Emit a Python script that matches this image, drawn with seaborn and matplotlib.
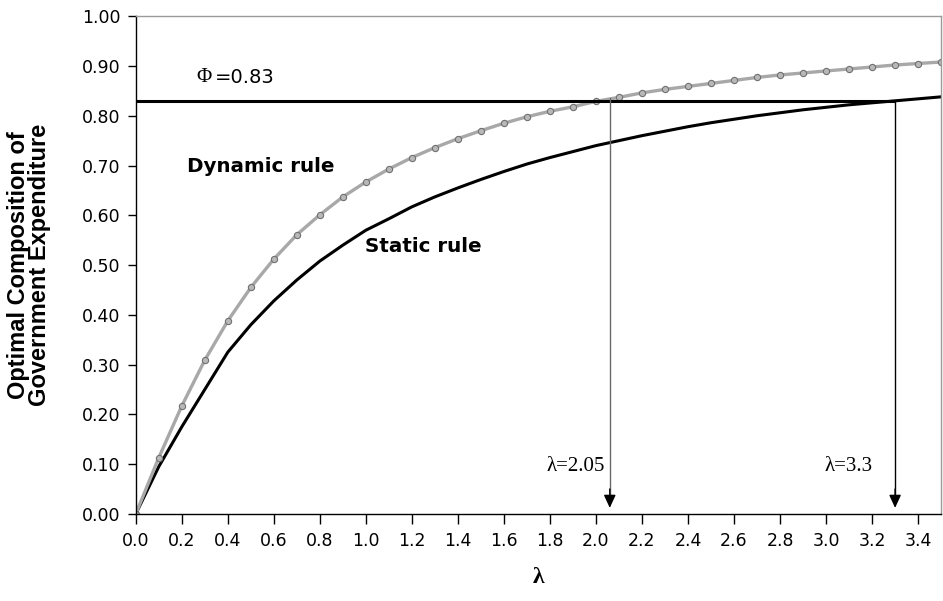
import matplotlib
matplotlib.use("Agg")
import matplotlib.pyplot as plt
import seaborn as sns
import pandas as pd

lam = [round(0.1 * i, 1) for i in range(36)]
dynamic_rule = [0.000, 0.113, 0.217, 0.309, 0.388, 0.455, 0.512, 0.561, 0.601, 0.637,
                0.667, 0.693, 0.716, 0.736, 0.754, 0.770, 0.785, 0.798, 0.809, 0.818,
                0.829, 0.837, 0.846, 0.853, 0.859, 0.865, 0.871, 0.877, 0.882, 0.886,
                0.890, 0.894, 0.898, 0.902, 0.905, 0.908]
static_rule = [0.000, 0.095, 0.175, 0.250, 0.325, 0.380, 0.428, 0.470, 0.508, 0.540,
               0.570, 0.593, 0.617, 0.637, 0.655, 0.672, 0.688, 0.703, 0.716, 0.728,
               0.740, 0.750, 0.760, 0.769, 0.778, 0.786, 0.793, 0.800, 0.806, 0.812,
               0.817, 0.822, 0.826, 0.830, 0.834, 0.838]
phi = 0.83
cross_lams = [2.06, 3.3]
cross_labels = ["λ=2.05", "λ=3.3"]
x_ticks = [round(0.2 * i, 1) for i in range(18)]
y_ticks = [round(0.1 * i, 1) for i in range(11)]

df = pd.DataFrame({"lam": lam, "dynamic": dynamic_rule, "static": static_rule})

sns.set_theme(style="white")
plt.rcParams["font.family"] = ["DejaVu Sans"]
plt.rcParams.update({"text.color": "black", "axes.labelcolor": "black",
                     "xtick.color": "black", "ytick.color": "black",
                     "xtick.labelcolor": "black", "ytick.labelcolor": "black"})

fig = plt.figure(figsize=(9.43, 6.01), dpi=100)
ax = fig.add_axes([0.144, 0.145, 0.854, 0.828])

sns.lineplot(data=df, x="lam", y="static", ax=ax, color="black", lw=2.2)
sns.lineplot(data=df, x="lam", y="dynamic", ax=ax, color="#a8a8a8", lw=2.4,
             marker="o", markersize=4.5, markerfacecolor="#b8b8b8",
             markeredgecolor="#707070", markeredgewidth=0.8)

ax.plot([0, cross_lams[1]], [phi, phi], color="black", lw=2.2, solid_capstyle="butt")

line_colors = ["#6a6a6a", "black"]
line_tops = [0.836, phi]
for xv, c, top in zip(cross_lams, line_colors, line_tops):
    ax.plot([xv, xv], [top, 0.03], color=c, lw=1.0)
    ax.annotate("", xy=(xv, 0.012), xytext=(xv, 0.05),
                arrowprops=dict(arrowstyle="-|>,head_length=0.65,head_width=0.3",
                                color="black", lw=1.0, shrinkA=0, shrinkB=0))

ax.text(2.039, 0.096, cross_labels[0], family=["Liberation Serif"], fontsize=15,
        ha="right", va="center", color="black")
ax.text(3.204, 0.096, cross_labels[1], family=["Liberation Serif"], fontsize=15,
        ha="right", va="center", color="black")

ax.text(0.265, 0.877, "Φ", family=["Liberation Serif"], fontsize=15, ha="left", va="center")
ax.text(0.343, 0.877, "=0.83", fontsize=14, ha="left", va="center")
ax.text(0.222, 0.699, "Dynamic rule", fontsize=14.3, fontweight="bold", ha="left", va="center")
ax.text(0.996, 0.538, "Static rule", fontsize=14.3, fontweight="bold", ha="left", va="center")

ax.set_xlim(0, 3.5)
ax.set_ylim(0, 1.0)
ax.set_xticks(x_ticks)
ax.set_xticklabels([f"{v:.1f}" for v in x_ticks])
ax.set_yticks(y_ticks)
ax.set_yticklabels([f"{v:.2f}" for v in y_ticks])
ax.tick_params(axis="x", direction="out", length=7, width=1, color="black",
               labelsize=12.5, pad=6, bottom=True, labelcolor="black")
ax.tick_params(axis="y", direction="out", length=6, width=1, color="black",
               labelsize=12.5, pad=5, left=True, labelcolor="black")

ax.set_xlabel("λ", family=["Liberation Serif"], fontsize=17, fontweight="bold", labelpad=12)
ax.set_ylabel("Optimal Composition of\nGovernment Expenditure", fontsize=17,
              fontweight="bold", linespacing=0.88, family=["Liberation Sans"])
ax.yaxis.set_label_coords(-0.105, 0.5)

for side in ["left", "bottom"]:
    ax.spines[side].set_color("black")
    ax.spines[side].set_linewidth(1.0)
for side in ["top", "right"]:
    ax.spines[side].set_visible(True)
    ax.spines[side].set_color("#9a9a9a")
    ax.spines[side].set_linewidth(1.0)

fig.savefig("out.png", dpi=100)
